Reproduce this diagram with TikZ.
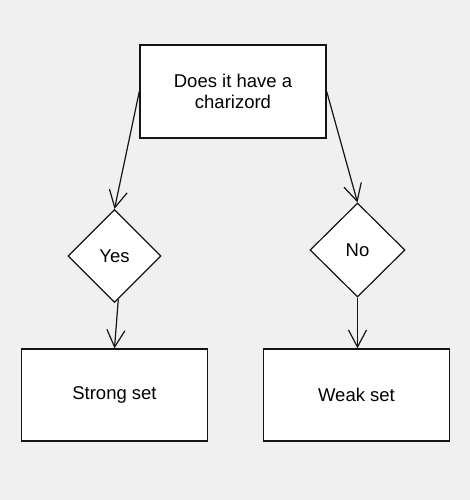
\documentclass[tikz,border=0pt]{standalone}
\usepackage{fontspec}
\setmainfont{Liberation Sans}
\usepackage{tikz}
\usetikzlibrary{arrows.meta,shapes.geometric}
\definecolor{canvas}{RGB}{240,240,240}
\definecolor{ink}{RGB}{20,20,20}

\begin{document}
\begin{tikzpicture}[
  box/.style={draw=ink,line width=1.4bp,fill=white,minimum width=186bp,minimum height=93bp,inner sep=0pt,align=center,font=\fontsize{18.5bp}{21.7bp}\selectfont},
  choice/.style={draw=ink,line width=1.2bp,fill=white,diamond,minimum width=93bp,minimum height=93bp,inner sep=0pt,font=\fontsize{18.5bp}{21.7bp}\selectfont},
  link/.style={-{Straight Barb[length=17bp,width=18bp,line width=1.2bp]},line width=1.2bp,draw=ink}]

\fill[canvas] (0bp,0bp) rectangle (470bp,-500bp);
\useasboundingbox (0bp,0bp) rectangle (470bp,-500bp);

\node (Q) at (233bp,-91.5bp)[box] {Does it have a\\charizord};
\node (Yes) at (114.5bp,-256bp)[choice] {Yes};
\node (No) at (357.5bp,-250bp)[choice,minimum width=95bp,minimum height=94bp] {No};
\node (Strong) at (114.5bp,-395bp)[box,minimum height=92bp] {Strong set};
\node (Weak) at (356.5bp,-395bp)[box,minimum height=92bp] {Weak set};

\draw [link] (Q.west) to (Yes.north);
\draw [link] (Q.east) to (No.north);
\draw [link] (Yes.-85) to (Strong.north);
\draw [link] (No.south) to (No.south |- Weak.north);
\end{tikzpicture}
\end{document}
